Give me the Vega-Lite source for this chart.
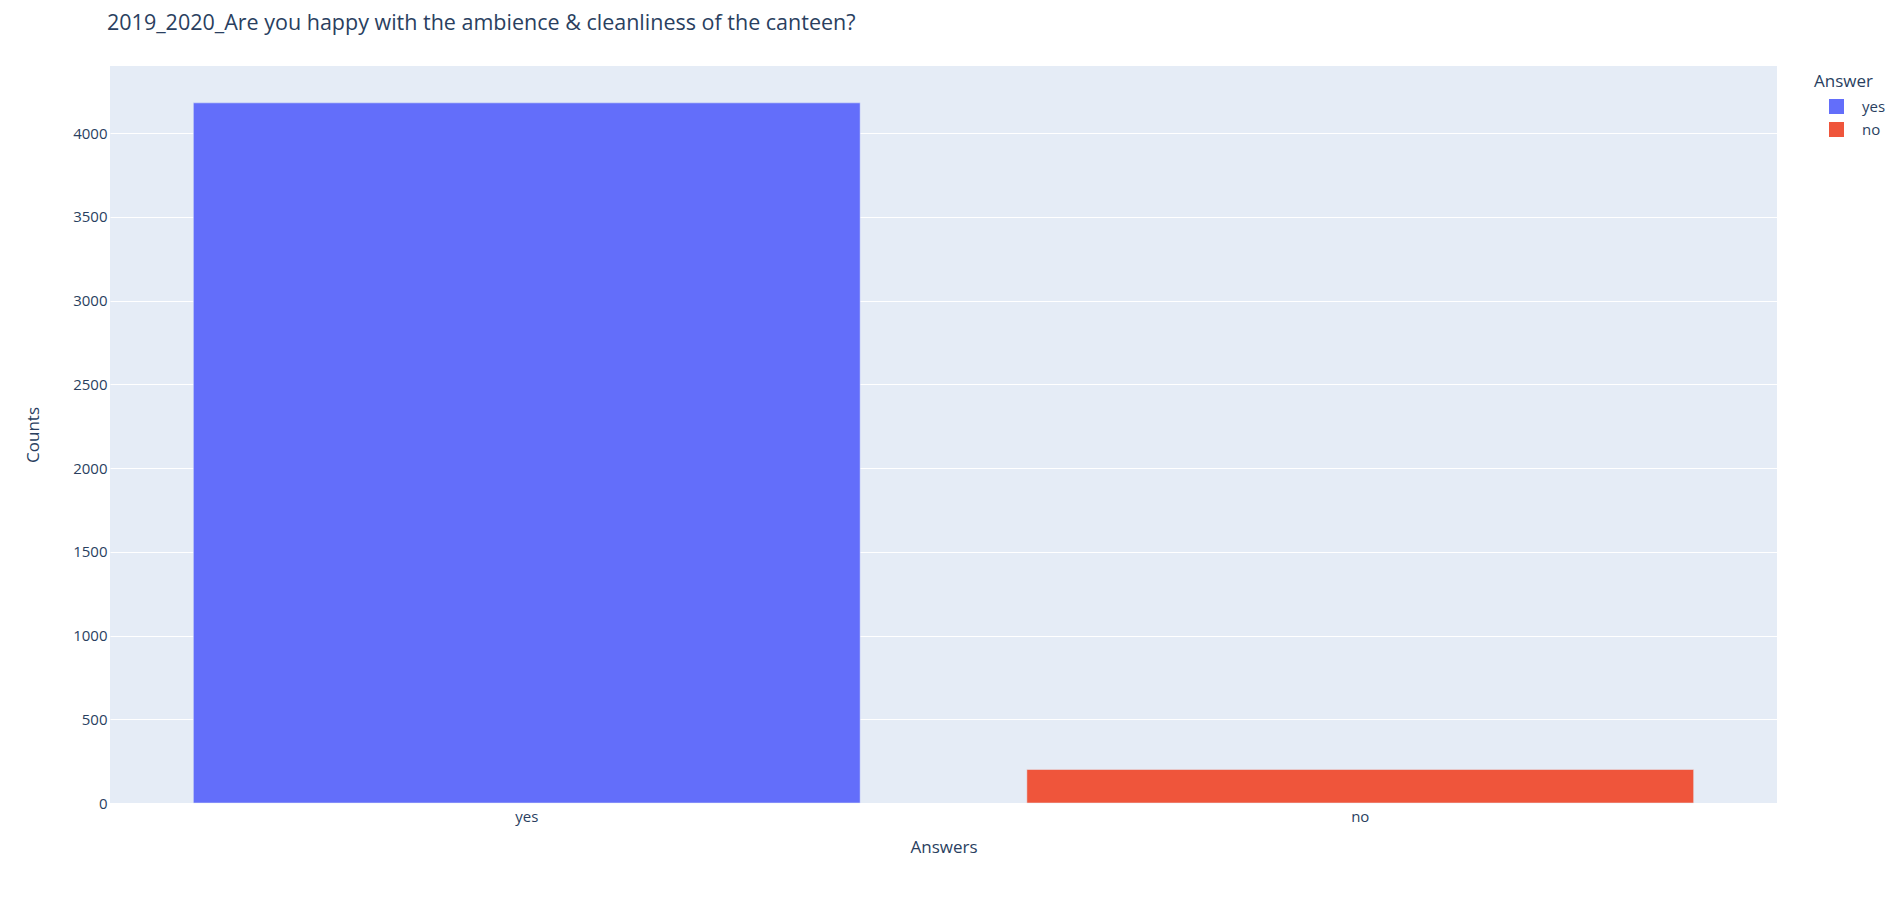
{
  "$schema": "https://vega.github.io/schema/vega-lite/v6.json",
  "autosize": {"type": "none"},
  "width": 1667,
  "height": 737,
  "padding": {"left": 110, "top": 66, "right": 127, "bottom": 113},
  "background": "white",
  "title": {
    "text": "2019_2020_Are you happy with the ambience & cleanliness of the canteen?",
    "anchor": "start",
    "frame": "group",
    "dx": -3,
    "offset": 32,
    "fontSize": 21.5,
    "fontWeight": "normal",
    "font": "Open Sans",
    "color": "#2a3f5f"
  },
  "data": {
    "values": [
      {"Answers": "yes", "Counts": 4180},
      {"Answers": "no", "Counts": 200}
    ]
  },
  "mark": {"type": "bar", "stroke": "#E5ECF6", "strokeWidth": 0.5},
  "encoding": {
    "x": {
      "field": "Answers",
      "type": "nominal",
      "sort": ["yes", "no"],
      "scale": {"paddingInner": 0.2, "paddingOuter": 0.1},
      "axis": {
        "title": "Answers",
        "labelAngle": 0,
        "ticks": false,
        "domain": false,
        "labelPadding": 6,
        "titlePadding": 15
      }
    },
    "y": {
      "field": "Counts",
      "type": "quantitative",
      "scale": {"domain": [0, 4400], "nice": false},
      "axis": {
        "title": "Counts",
        "format": "d",
        "values": [0, 500, 1000, 1500, 2000, 2500, 3000, 3500, 4000],
        "ticks": false,
        "domain": false,
        "labelPadding": 3,
        "titlePadding": 30
      }
    },
    "color": {
      "field": "Answers",
      "type": "nominal",
      "title": "Answer",
      "sort": ["yes", "no"],
      "scale": {"domain": ["yes", "no"], "range": ["#636efa", "#EF553B"]},
      "legend": {
        "orient": "right",
        "offset": 29,
        "padding": 8,
        "titleLimit": 200,
        "symbolType": "square",
        "symbolSize": 225,
        "symbolStrokeWidth": 0,
        "symbolOffset": 15,
        "labelOffset": 18,
        "rowPadding": 7,
        "titlePadding": 8,
        "titleBaseline": "top",
        "titleFontSize": 17
      }
    }
  },
  "config": {
    "font": "Open Sans",
    "view": {"fill": "#E5ECF6", "stroke": null},
    "axis": {
      "grid": true,
      "gridColor": "white",
      "gridWidth": 1,
      "labelFont": "Open Sans",
      "labelFontSize": 15,
      "labelColor": "#2a3f5f",
      "titleFont": "Open Sans",
      "titleFontSize": 17,
      "titleFontWeight": "normal",
      "titleColor": "#2a3f5f"
    },
    "axisX": {"grid": false},
    "legend": {
      "titleFont": "Open Sans",
      "titleFontSize": 17,
      "titleFontWeight": "normal",
      "titleColor": "#2a3f5f",
      "labelFont": "Open Sans",
      "labelFontSize": 15,
      "labelColor": "#2a3f5f"
    }
  }
}
